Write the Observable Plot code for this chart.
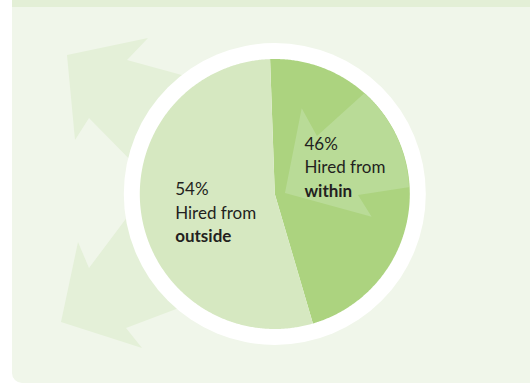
<!DOCTYPE html>
<html>
<head>
<meta charset="utf-8">
<script src="https://cdn.jsdelivr.net/npm/d3@7"></script>
<script src="https://cdn.jsdelivr.net/npm/@observablehq/plot@0.6"></script>
<style>
  html, body { margin: 0; padding: 0; background: #ffffff; }
  #wrap { position: relative; width: 530px; height: 385px; overflow: hidden; }
  #panel { position: absolute; left: 12px; top: 0; width: 518px; height: 383px; background: #f0f6ea; border-bottom-left-radius: 10px; }
  #band { position: absolute; left: 12px; top: 0; width: 518px; height: 7px; background: #e3efd6; }
  #decor { position: absolute; left: 0; top: 0; }
  #chart { position: absolute; left: 0; top: 0; }
</style>
</head>
<body>
<div id="wrap">
  <div id="panel"></div>
  <div id="band"></div>
  <svg id="decor" width="530" height="385" aria-hidden="true">
    <polygon fill="#e4f0d8" points="67,55 148,38 127,60 200,80 200,150 150,180 89,118 75,140"/>
    <polygon fill="#e4f0d8" points="61,322 78,242 89,268 140,200 200,240 200,300 126,328 142,348"/>
  </svg>
  <div id="chart"></div>
</div>
<script>
// ---- data ----
const categories = ["Hired from within", "Hired from outside"];
const shares = [46, 54];
const percentLabels = ["46%", "54%"];
const emphasis = ["within", "outside"];

// ---- styles ----
const sliceColors = ["#acd37f", "#d6e8c1"];
const textColor = "#231f20";
// decorative arrow inside the "within" slice, in pie-radius units
const innerArrowShape = [[0.079,0.004],[0.203,0.631],[0.316,0.426],[0.931,0.981],[1.45,0.544],[1.153,0.07],[0.62,-0.011],[0.721,-0.172]];
// label offsets (px) from slice centroid: [dx, dy]
const labelOffsets = [[-37, -10], [-33, 14]];

const cx = 274.3, cy = 193.5, R = 135, ringR = 151, lineGap = 23.4;
const startDeg = -2;

const rows = categories.map((c, i) => ({category: c, value: shares[i], pct: percentLabels[i], word: emphasis[i],
  prefix: c.slice(0, c.length - emphasis[i].length).trim()}));
const a0 = startDeg * Math.PI / 180;
const arcs = d3.pie().sort(null).startAngle(a0).endAngle(a0 + 2 * Math.PI).value(d => d.value)(rows);

const slicePts = arcs.flatMap(a => {
  const pts = [{category: a.data.category, x: 0, y: 0}];
  const n = Math.max(2, Math.ceil((a.endAngle - a.startAngle) / (Math.PI / 360)));
  for (let k = 0; k <= n; k++) {
    const t = a.startAngle + (a.endAngle - a.startAngle) * k / n;
    pts.push({category: a.data.category, x: Math.sin(t), y: Math.cos(t)});
  }
  return pts;
});
const labels = arcs.map(a => {
  const m = (a.startAngle + a.endAngle) / 2;
  return {...a.data, x: 0.5 * Math.sin(m), y: 0.5 * Math.cos(m)};
});

function innerArrow(index, scales) {
  const ns = "http://www.w3.org/2000/svg";
  const g = document.createElementNS(ns, "g");
  const X = scales.x, Y = scales.y;
  const clip = document.createElementNS(ns, "clipPath");
  clip.setAttribute("id", "pieclip");
  const c = document.createElementNS(ns, "circle");
  c.setAttribute("cx", X(0)); c.setAttribute("cy", Y(0)); c.setAttribute("r", X(1) - X(0));
  clip.appendChild(c);
  g.appendChild(clip);
  const p = document.createElementNS(ns, "path");
  p.setAttribute("d", "M" + innerArrowShape.map(([u, v]) => `${X(u)},${Y(v)}`).join("L") + "Z");
  p.setAttribute("fill", "#b9db97");
  p.setAttribute("clip-path", "url(#pieclip)");
  g.appendChild(p);
  return g;
}

const font = {fontFamily: "Lato, 'Liberation Sans', sans-serif", fontSize: 17, fill: textColor};
const textMarks = labels.flatMap((d, i) => [
  Plot.text([d], {x: "x", y: "y", text: e => `${e.pct}\n${e.prefix}`, textAnchor: "start", lineAnchor: "bottom",
    lineHeight: lineGap / 17, dx: labelOffsets[i][0], dy: labelOffsets[i][1], ...font}),
  Plot.text([d], {x: "x", y: "y", text: "word", textAnchor: "start", lineAnchor: "bottom",
    dx: labelOffsets[i][0], dy: labelOffsets[i][1] + lineGap, fontWeight: "bold", ...font})
]);

const chart = Plot.plot({
  width: 530,
  height: 385,
  margin: 0,
  x: {domain: [-1, 1], range: [cx - R, cx + R], axis: null},
  y: {domain: [-1, 1], range: [cy + R, cy - R], axis: null},
  color: {domain: categories, range: sliceColors},
  style: {background: "transparent", overflow: "visible"},
  marks: [
    Plot.dot([{x: 0, y: 0}], {x: "x", y: "y", r: ringR, fill: "white", stroke: "none"}),
    Plot.line(slicePts, {x: "x", y: "y", z: "category", fill: "category", stroke: "none", curve: "linear"}),
    innerArrow,
    ...textMarks
  ]
});
document.getElementById("chart").appendChild(chart);
</script>
</body>
</html>
